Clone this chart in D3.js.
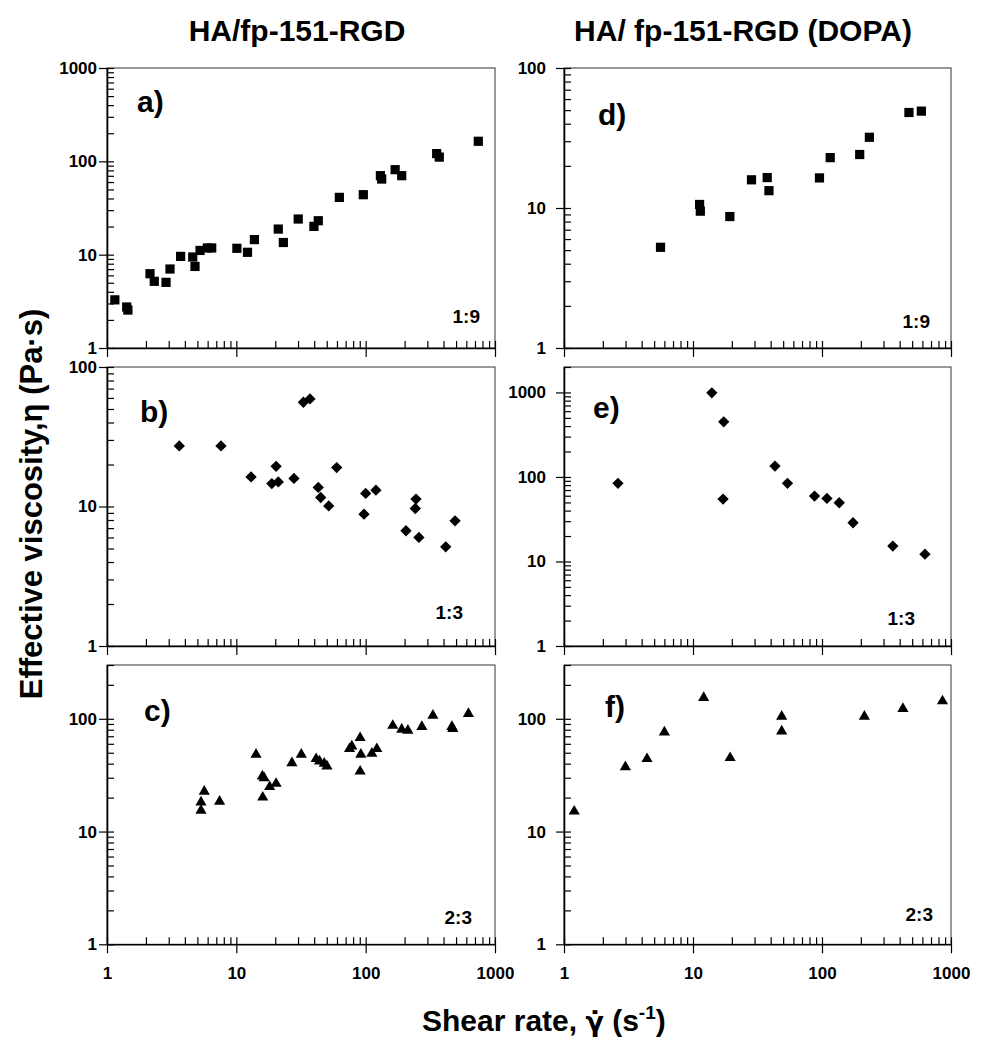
<!DOCTYPE html>
<html>
<head>
<meta charset="utf-8">
<script src="https://cdn.jsdelivr.net/npm/d3@7"></script>
<style>
  html, body { margin: 0; padding: 0; background: #fff; }
  svg text { font-family: "Liberation Sans", Arial, Helvetica, sans-serif; font-weight: bold; fill: #000; }
</style>
</head>
<body>
<svg id="chart" width="982" height="1050"></svg>
<script>
// ---------- DATA ----------
const xMajorTicks = [1, 10, 100, 1000];
const xTickLabels = ["1", "10", "100", "1000"];

// a) HA/fp-151-RGD 1:9
const aShear = [1.15, 1.42, 1.45, 2.15, 2.32, 2.86, 3.07, 3.71, 4.6, 4.79, 5.24, 5.97, 6.45, 10.1, 12.2, 13.8, 21.1, 23.1, 30.1, 39.8, 43, 62.6, 95.9, 130, 133, 169, 190, 354, 371, 743];
const aVisc  = [3.28, 2.75, 2.55, 6.25, 5.18, 5.05, 7.02, 9.58, 9.44, 7.48, 11.1, 11.8, 11.8, 11.7, 10.6, 14.5, 18.8, 13.5, 24.1, 20.1, 23.1, 41.1, 43.9, 70.2, 64.6, 81.4, 70.2, 121, 111, 164];

// b) HA/fp-151-RGD 1:3
const bShear = [3.62, 7.61, 13.0, 18.8, 20.3, 21.1, 27.9, 33.0, 37.1, 43.0, 44.9, 51.8, 59.7, 97.1, 100, 120, 205, 245, 242, 258, 416, 491];
const bVisc  = [27.2, 27.2, 16.3, 14.6, 19.4, 15.0, 15.9, 55.9, 59.0, 13.7, 11.6, 10.1, 19.0, 8.81, 12.4, 13.1, 6.7, 11.3, 9.68, 6.0, 5.14, 7.89];

// c) HA/fp-151-RGD 2:3
const cShear = [5.33, 5.33, 5.65, 7.42, 14.2, 15.9, 16.4, 16.0, 18.1, 20.3, 26.9, 31.8, 41.4, 44, 47.8, 50.2, 75, 78.2, 90.6, 91.8, 90.6, 111.6, 122, 162, 190, 212, 272, 331, 464, 472, 623];
const cVisc  = [15.4, 18.2, 22.7, 18.5, 48.2, 30.9, 29.9, 20.1, 24.9, 26.6, 40.6, 48.2, 44.1, 42, 40.1, 37.9, 54.1, 57, 67.7, 48.2, 34.2, 49.2, 54.1, 87, 80.3, 78.7, 84.9, 107, 84.9, 81.5, 111];

// d) HA/fp-151-RGD (DOPA) 1:9
const dShear = [5.6, 11.25, 11.4, 19.3, 28.4, 37.6, 38.8, 95.6, 115.8, 196, 233, 472, 589];
const dVisc  = [5.24, 10.6, 9.49, 8.69, 15.9, 16.5, 13.3, 16.4, 22.9, 24.1, 32.0, 48.1, 49.2];

// e) HA/fp-151-RGD (DOPA) 1:3
const eShear = [2.62, 14.0, 17.3, 17.1, 43.2, 54, 87.5, 109.2, 136, 174, 354, 628];
const eVisc  = [84, 989, 449, 54.7, 134.4, 84, 59.4, 55.7, 49.5, 28.7, 15.2, 12.2];

// f) HA/fp-151-RGD (DOPA) 2:3
const fShear = [1.2, 2.99, 4.4, 6.0, 12.1, 19.4, 48.7, 48.7, 213, 424, 859];
const fVisc  = [15.1, 37.4, 44.1, 76, 153.7, 45, 105, 77.6, 105, 123, 143.5];

const columnTitles = ["HA/fp-151-RGD", "HA/ fp-151-RGD (DOPA)"];
const panelLetters = ["a)", "b)", "c)", "d)", "e)", "f)"];
const ratioLabels  = ["1:9", "1:3", "2:3", "1:9", "1:3", "2:3"];
const yDomains = [[1, 1000], [1, 100], [1, 300], [1, 100], [1, 2000], [1, 300]];
const yMajorTicks = [[1, 10, 100, 1000], [1, 10, 100], [1, 10, 100], [1, 10, 100], [1, 10, 100, 1000], [1, 10, 100]];

// ---------- LAYOUT ----------
const colX = [[107, 495], [564, 951]];
const rowY = [[68, 348], [367, 646], [665, 944.3]];
const labelPad = [2, 10];

const panels = [
  { sx: aShear, sy: aVisc, col: 0, row: 0, sym: "square",   letter: [137, 112], ratio: [480, 323] },
  { sx: bShear, sy: bVisc, col: 0, row: 1, sym: "diamond",  letter: [140, 422], ratio: [463, 619] },
  { sx: cShear, sy: cVisc, col: 0, row: 2, sym: "triangle", letter: [144, 721], ratio: [472, 924] },
  { sx: dShear, sy: dVisc, col: 1, row: 0, sym: "square",   letter: [598, 125], ratio: [930, 328] },
  { sx: eShear, sy: eVisc, col: 1, row: 1, sym: "diamond",  letter: [593, 418], ratio: [915, 625] },
  { sx: fShear, sy: fVisc, col: 1, row: 2, sym: "triangle", letter: [605, 717], ratio: [933, 921] }
];

function minorTicks(dom) {
  const out = [];
  const e0 = Math.floor(Math.log10(dom[0])), e1 = Math.ceil(Math.log10(dom[1]));
  for (let e = e0; e <= e1; e++) {
    for (let m = 1; m <= 9; m++) {
      const v = m * Math.pow(10, e);
      if (v >= dom[0] * 0.999 && v <= dom[1] * 1.001) out.push(v);
    }
  }
  return out;
}

const svg = d3.select("#chart");

// Column titles
columnTitles.forEach((t, i) => {
  svg.append("text").attr("x", [297, 743][i]).attr("y", 41)
    .attr("text-anchor", "middle").style("font-size", "30px").text(t);
});

panels.forEach((p, i) => {
  const [x0, x1] = colX[p.col];
  const [y0, y1] = rowY[p.row];
  const x = d3.scaleLog().domain([1, 1000]).range([x0, x1]);
  const y = d3.scaleLog().domain(yDomains[i]).range([y1, y0]);
  const g = svg.append("g");

  // frame
  g.append("rect").attr("x", x0).attr("y", y0).attr("width", x1 - x0).attr("height", y1 - y0)
    .attr("fill", "none").attr("stroke", "#333").attr("stroke-width", 1);

  // x axis: minor inward ticks
  g.append("g").attr("transform", `translate(0,${y1})`)
    .call(d3.axisBottom(x).tickValues(minorTicks([1, 1000])).tickSize(-7).tickFormat(""))
    .call(a => a.select(".domain").remove());
  // x axis: major outward ticks
  const isBottom = p.row === 2;
  g.append("g").attr("transform", `translate(0,${y1})`)
    .call(d3.axisBottom(x).tickValues(xMajorTicks).tickSizeInner(9).tickSizeOuter(0).tickPadding(14)
      .tickFormat((d, k) => isBottom ? xTickLabels[k] : ""))
    .call(a => a.select(".domain").attr("stroke-width", 1.6));

  // y axis: minor inward ticks
  g.append("g").attr("transform", `translate(${x0},0)`)
    .call(d3.axisLeft(y).tickValues(minorTicks(yDomains[i])).tickSize(-7).tickFormat(""))
    .call(a => a.select(".domain").remove());
  // y axis: major outward ticks with labels
  g.append("g").attr("transform", `translate(${x0},0)`)
    .call(d3.axisLeft(y).tickValues(yMajorTicks[i]).tickSizeInner(8).tickSizeOuter(0)
      .tickPadding(labelPad[p.col]).tickFormat(d3.format("d")))
    .call(a => a.select(".domain").attr("stroke-width", 1.6));

  g.selectAll(".tick line").attr("stroke", "#000").attr("stroke-width", 1.2);
  g.selectAll(".tick text").style("font-size", "17px").style("font-weight", "bold")
    .style("font-family", '"Liberation Sans", Arial, sans-serif').attr("fill", "#000");

  // markers
  let sym;
  if (p.sym === "square") sym = d3.symbol().type(d3.symbolSquare).size(85);
  else if (p.sym === "diamond") sym = d3.symbol().type(d3.symbolSquare).size(64);
  else sym = d3.symbol().type(d3.symbolTriangle).size(54);
  const rot = p.sym === "diamond" ? 45 : 0;
  g.selectAll("path.pt").data(p.sx.map((v, k) => [v, p.sy[k]])).enter()
    .append("path").attr("class", "pt").attr("d", sym())
    .attr("transform", d => `translate(${x(d[0])},${y(d[1])}) rotate(${rot})`)
    .attr("fill", "#000");

  // labels
  g.append("text").attr("x", p.letter[0]).attr("y", p.letter[1])
    .style("font-size", "30px").text(panelLetters[i]);
  g.append("text").attr("x", p.ratio[0]).attr("y", p.ratio[1]).attr("text-anchor", "end")
    .style("font-size", "19px").text(ratioLabels[i]);
});

// Axis titles
svg.append("text").attr("transform", "translate(42,504) rotate(-90)")
  .attr("text-anchor", "middle").style("font-size", "31px")
  .text("Effective viscosity,\u03B7 (Pa\u00B7s)");

const xl = svg.append("text").attr("x", 422).attr("y", 1031).style("font-size", "30px");
xl.append("tspan").text("Shear rate, ");
xl.append("tspan").style("font-family", '"DejaVu Sans", sans-serif').style("font-size", "27px")
  .text("\u03B3\u0307");
xl.append("tspan").text(" (s");
xl.append("tspan").attr("dy", -12).style("font-size", "19px").text("-1");
xl.append("tspan").attr("dy", 12).text(")");
</script>
</body>
</html>
